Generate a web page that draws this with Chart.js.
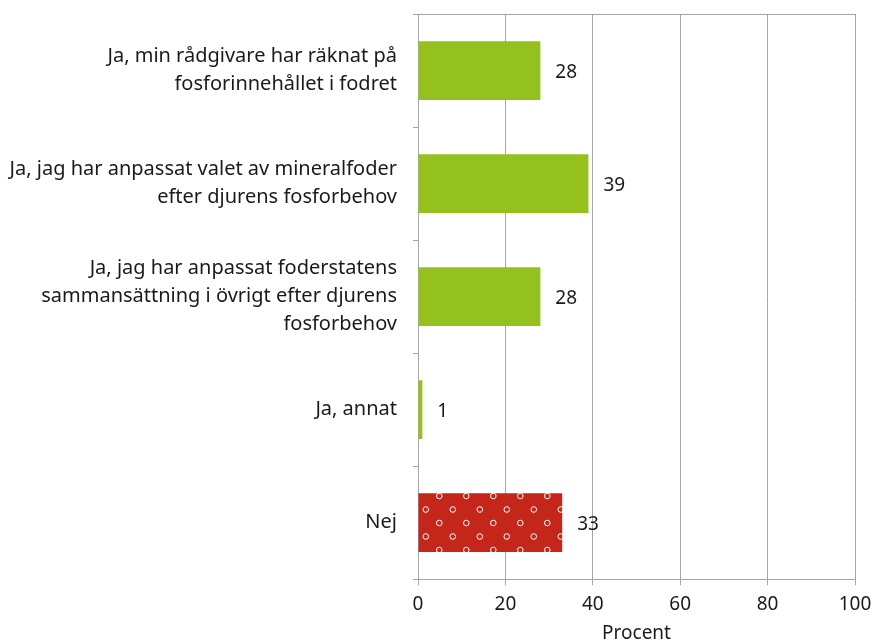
<!DOCTYPE html>
<html>
<head>
<meta charset="utf-8">
<script src="https://cdn.jsdelivr.net/npm/chart.js@4"></script>
<style>
  html, body { margin: 0; padding: 0; background: #fff; }
  #wrap { width: 876px; height: 641px; }
</style>
</head>
<body>
<div id="wrap"><canvas id="chart"></canvas></div>
<script>
const categories = [
    ['Ja, min rådgivare har räknat på', 'fosforinnehållet i fodret'],
    ['Ja, jag har anpassat valet av mineralfoder', 'efter djurens fosforbehov'],
    ['Ja, jag har anpassat foderstatens', 'sammansättning i övrigt efter djurens', 'fosforbehov'],
    'Ja, annat',
    'Nej'
];
const values = [28, 39, 28, 1, 33];
const xTicks = [0, 20, 40, 60, 80, 100];

const green = '#95c11f';
const red = '#c4261a';
const fontFamily = '"Noto Sans", "Open Sans", sans-serif';

// red fill with small white rings
function dotPattern() {
    const c = document.createElement('canvas');
    c.width = 27;
    c.height = 27;
    const g = c.getContext('2d');
    g.fillStyle = red;
    g.fillRect(0, 0, 27, 27);
    g.strokeStyle = '#ffffff';
    g.lineWidth = 1;
    [[7.3, 10], [20.8, 23.5]].forEach(p => {
        g.beginPath();
        g.arc(p[0], p[1], 2.8, 0, Math.PI * 2);
        g.stroke();
    });
    return document.getElementById('chart').getContext('2d').createPattern(c, 'repeat');
}

const barColors = values.map((v, i) => i === values.length - 1 ? dotPattern() : green);

const valueLabels = {
    id: 'valueLabels',
    afterDatasetsDraw(chart) {
        const ctx = chart.ctx;
        const meta = chart.getDatasetMeta(0);
        ctx.save();
        ctx.font = '19px ' + fontFamily;
        ctx.fillStyle = '#1a1a1a';
        ctx.textBaseline = 'middle';
        meta.data.forEach((bar, i) => {
            ctx.fillText(values[i], bar.x + 15, bar.y + 2);
        });
        ctx.restore();
    }
};

const topLine = {
    id: 'topLine',
    beforeDatasetsDraw(chart) {
        const a = chart.chartArea;
        const ctx = chart.ctx;
        ctx.save();
        ctx.strokeStyle = '#a6a6a6';
        ctx.lineWidth = 1;
        ctx.beginPath();
        ctx.moveTo(a.left - 5, a.top + 0.5);
        ctx.lineTo(a.right, a.top + 0.5);
        ctx.stroke();
        ctx.restore();
    }
};

new Chart(document.getElementById('chart'), {
    type: 'bar',
    data: {
        labels: categories,
        datasets: [{
            data: values,
            backgroundColor: barColors,
            borderWidth: 0,
            barPercentage: 0.52,
            categoryPercentage: 1
        }]
    },
    options: {
        indexAxis: 'y',
        responsive: true,
        maintainAspectRatio: false,
        animation: false,
        layout: {
            padding: { top: 14, right: 21, bottom: -3, left: 0 }
        },
        scales: {
            x: {
                min: 0,
                max: 100,
                afterBuildTicks: scale => {
                    scale.ticks = xTicks.map(v => ({ value: v }));
                },
                afterFit: scale => {
                    scale.paddingRight = 0;
                    scale.paddingLeft = 0;
                },
                grid: {
                    color: '#a6a6a6',
                    lineWidth: 1,
                    tickLength: 6
                },
                border: { color: '#a6a6a6' },
                ticks: {
                    color: '#1a1a1a',
                    font: { family: fontFamily, size: 19 },
                    padding: 8
                },
                title: {
                    display: true,
                    text: 'Procent',
                    color: '#1a1a1a',
                    font: { family: fontFamily, size: 19, lineHeight: 1.05 },
                    padding: { top: 0, bottom: 0 }
                }
            },
            y: {
                afterFit: scale => {
                    scale.width = 418;
                    scale.paddingTop = 0;
                    scale.paddingBottom = 0;
                },
                grid: {
                    offset: true,
                    drawOnChartArea: false,
                    color: '#a6a6a6',
                    tickLength: 5
                },
                border: { color: '#a6a6a6' },
                ticks: {
                    color: '#1a1a1a',
                    font: { family: fontFamily, size: 20, lineHeight: 1.4 },
                    padding: 16
                }
            }
        },
        plugins: {
            legend: { display: false },
            tooltip: { enabled: false }
        }
    },
    plugins: [valueLabels, topLine]
});
</script>
</body>
</html>
